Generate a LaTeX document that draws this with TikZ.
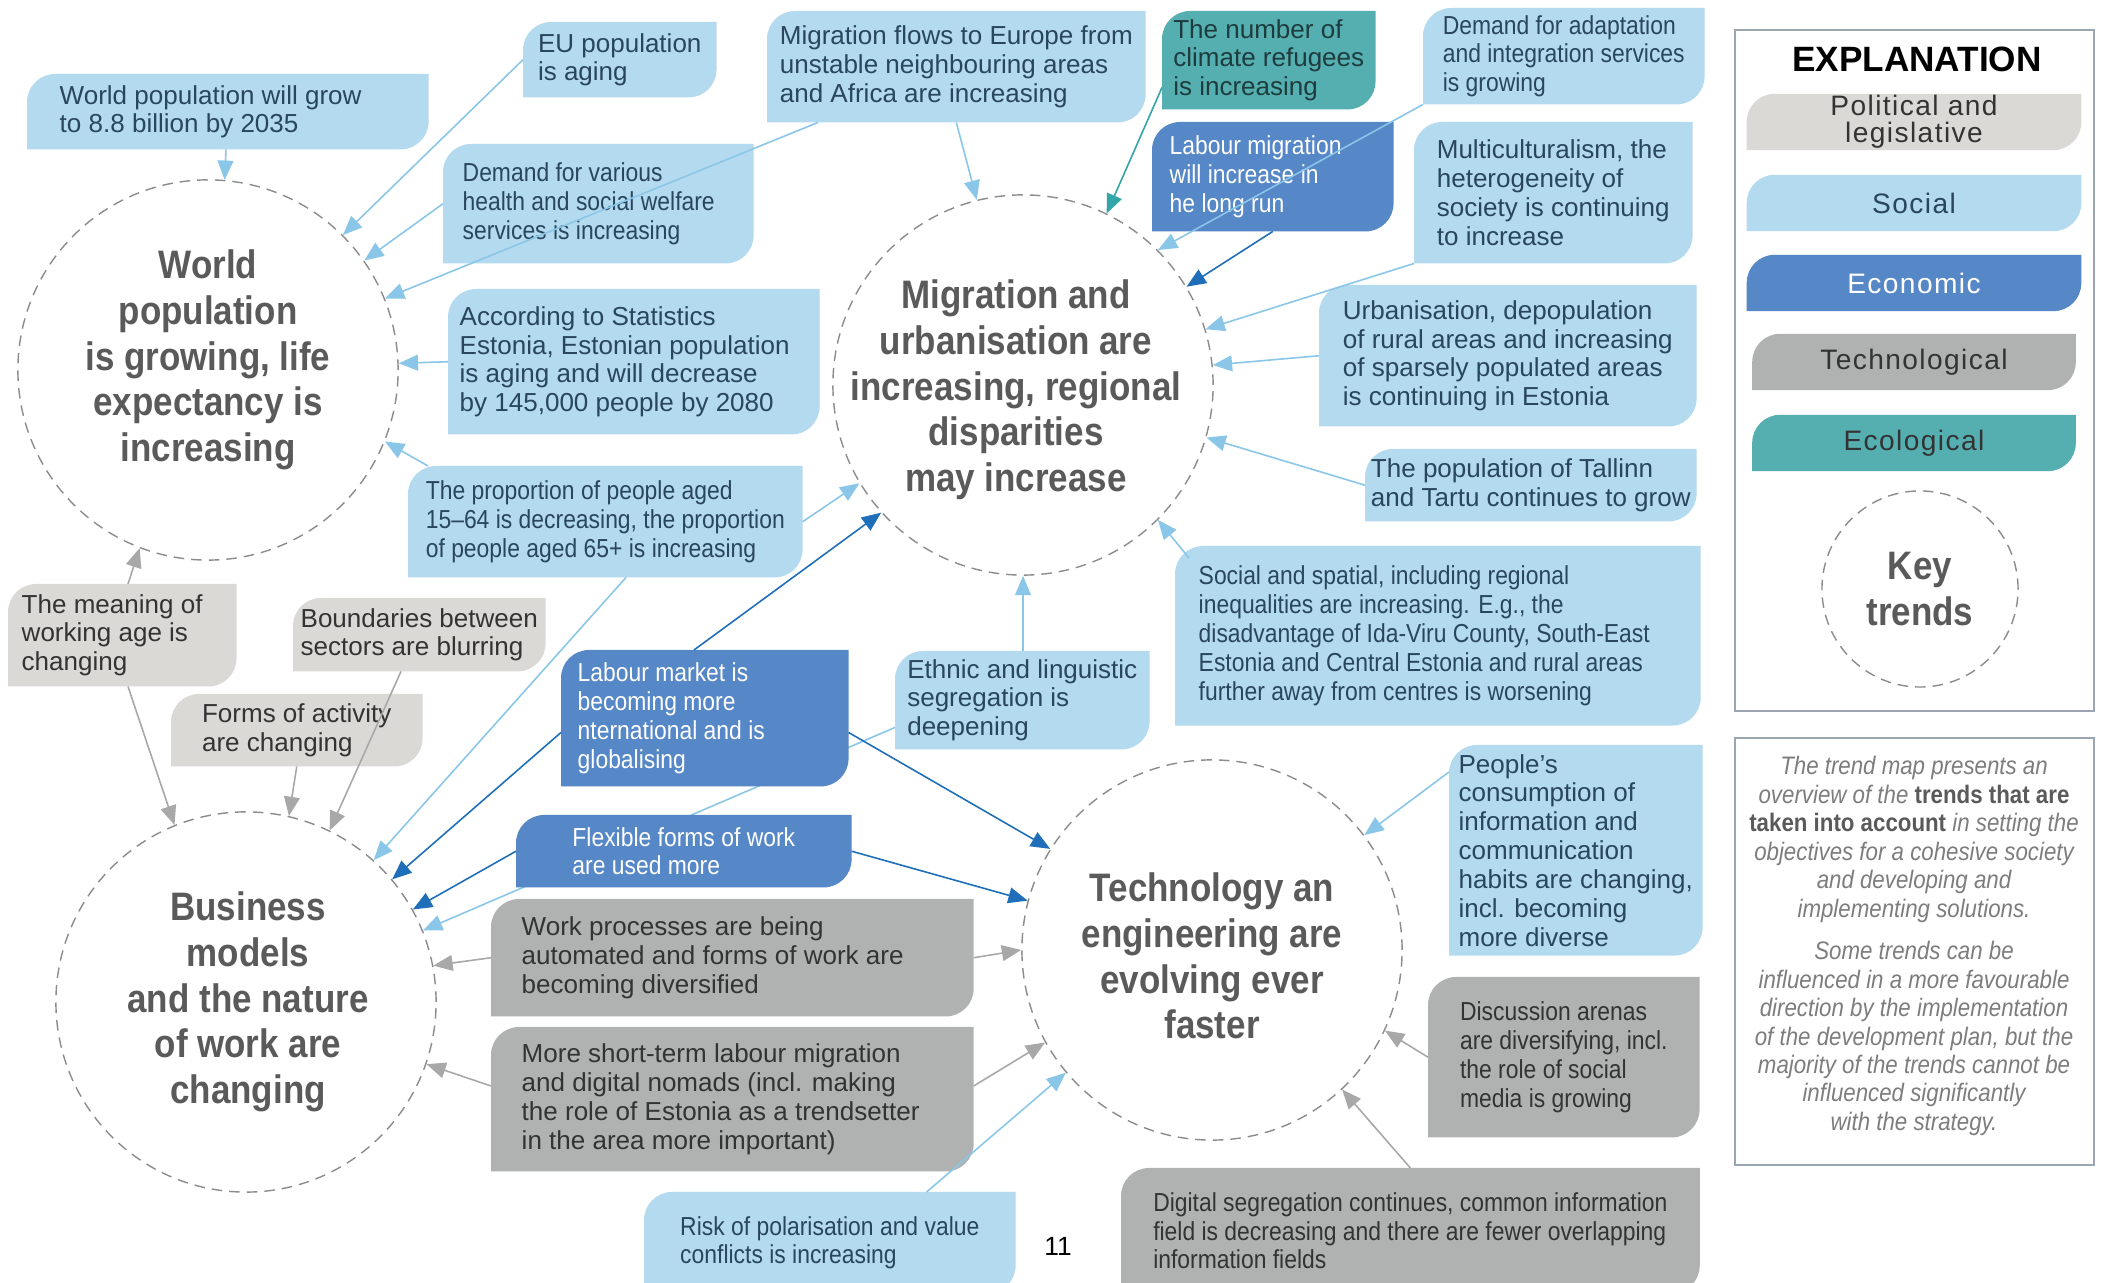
\documentclass[tikz,border=0pt]{standalone}
\usepackage{fontspec}
\setmainfont{Liberation Sans}
\newfontfamily\narrowfamily{Liberation Sans}[FakeStretch=0.88]
\usetikzlibrary{arrows.meta,calc}
\pgfdeclarelayer{background}
\pgfsetlayers{background,main}

\definecolor{socfill}{RGB}{180,218,239}
\definecolor{soctext}{RGB}{40,70,95}
\definecolor{ecofill}{RGB}{86,135,198}
\definecolor{tecfill}{RGB}{176,177,177}
\definecolor{polfill}{RGB}{218,217,213}
\definecolor{envfill}{RGB}{85,175,177}
\definecolor{envtext}{RGB}{30,60,62}
\definecolor{darktext}{RGB}{51,51,51}
\definecolor{socline}{RGB}{138,198,232}
\definecolor{ecoline}{RGB}{30,110,185}
\definecolor{tecline}{RGB}{168,168,168}
\definecolor{envline}{RGB}{50,165,168}
\definecolor{ringgray}{RGB}{140,140,140}
\definecolor{ringtext}{RGB}{90,90,90}
\definecolor{framegray}{RGB}{155,165,180}
\definecolor{notegray}{RGB}{125,125,125}

\newcommand\boxfont{\fontsize{7.4}{8.2}\selectfont}
\tikzstyle{box} = [rectangle,inner sep=0,align=flush left,anchor=north west,font=\boxfont]
\tikzstyle{narrow} = [font=\narrowfamily\fontsize{7.4}{8.2}\selectfont]
\tikzstyle{soc} = [box,text=soctext]
\tikzstyle{eco} = [box,text=white]
\tikzstyle{tec} = [box,text=darktext]
\tikzstyle{pol} = [box,text=darktext]
\tikzstyle{env} = [box,text=envtext]
\tikzstyle{trend} = [circle,draw=ringgray,dash pattern=on 3pt off 2pt,line width=0.4pt,inner sep=0]
\tikzstyle{trendtext} = [align=center,text=ringtext,font=\narrowfamily\bfseries\fontsize{11.3}{13}\selectfont]
\tikzstyle{legend} = [rectangle,inner sep=0,align=center,minimum height=0.55cm,font=\addfontfeatures{LetterSpace=5}\fontsize{8}{7.8}\selectfont]
\tikzstyle{note} = [align=center,text=notegray,font=\narrowfamily\itshape\fontsize{7.2}{8.1}\selectfont]
\tikzstyle{frame} = [draw=framegray,line width=0.6pt]
\tikzstyle{socarrow} = [-{Triangle[length=5.5pt,width=4.5pt]},socline,line width=0.45pt]
\tikzstyle{ecoarrow} = [-{Triangle[length=5.5pt,width=4.5pt]},ecoline,line width=0.45pt]
\tikzstyle{tecarrow} = [-{Triangle[length=5.5pt,width=4.5pt]},tecline,line width=0.45pt]
\tikzstyle{envarrow} = [-{Triangle[length=5.5pt,width=4.5pt]},envline,line width=0.45pt]
\def \rr {0.28cm}

\begin{document}
\begin{tikzpicture}[x=0.01cm,y=-0.01cm]
  \useasboundingbox (0,0) rectangle (2105,1283);

  % key trends
  \node[trend,minimum size=3.8cm] (wpc) at (208,370) {};
  \node[trendtext] (wpct) at (208,360) {World\\population\\is growing, life\\expectancy is\\increasing};
  \node[trend,minimum size=3.8cm] (migc) at (1023,385) {};
  \node[trendtext] (migct) at (1016,390) {Migration and\\urbanisation are\\increasing, regional\\disparities\\may increase};
  \node[trend,minimum size=3.8cm] (busc) at (246,1002) {};
  \node[trendtext] (busct) at (248,1002) {Business\\models\\and the nature\\of work are\\changing};
  \node[trend,minimum size=3.8cm] (tecc) at (1212,950) {};
  \node[trendtext] (tecct) at (1212,956) {Technology an\\engineering are\\evolving ever\\faster};

  % social
  \node[soc,minimum width=4cm,minimum height=0.74cm,text width=3.36cm] (wpgrow) at (27,74) {World population will grow\\to 8.8 billion by 2035};
  \node[soc,minimum width=1.92cm,minimum height=0.74cm] (euage) at (523,22) {EU population\\is aging};
  \node[soc,narrow,minimum width=3.09cm,minimum height=1.18cm,text width=2.71cm] (demand) at (443,144) {Demand for various\\health and social welfare\\services is increasing};
  \node[soc,minimum width=3.70cm,minimum height=1.44cm,text width=3.48cm] (statest) at (448,289) {According to Statistics\\Estonia, Estonian population\\is aging and will decrease\\by 145,000 people by 2080};
  \node[soc,narrow,minimum width=3.93cm,minimum height=1.10cm] (ageprop) at (408,466) {The proportion of people aged\\15–64 is decreasing, the proportion\\of people aged 65+ is increasing};
  \node[soc,minimum width=3.77cm,minimum height=1.10cm] (flows) at (767,11) {Migration flows to Europe from\\unstable neighbouring areas\\and Africa are increasing};
  \node[soc,narrow,minimum width=2.80cm,minimum height=0.95cm] (adapt) at (1423,8) {Demand for adaptation\\and integration services\\is growing};
  \node[soc,minimum width=2.77cm,minimum height=1.40cm] (multi) at (1414,122) {Multiculturalism, the\\heterogeneity of\\society is continuing\\to increase};
  \node[soc,minimum width=3.76cm,minimum height=1.40cm] (urban) at (1319,285) {Urbanisation, depopulation\\of rural areas and increasing\\of sparsely populated areas\\is continuing in Estonia};
  \node[soc,minimum width=3.30cm,minimum height=0.71cm] (tallinn) at (1365,449) {The population of Tallinn\\and Tartu continues to grow};
  \node[soc,narrow,minimum width=5.24cm,minimum height=1.78cm,text width=4.78cm] (spatial) at (1175,546) {Social and spatial, including regional\\inequalities are increasing. E.g., the\\disadvantage of Ida-Viru County, South-East\\Estonia and Central Estonia and rural areas\\further away from centres is worsening};
  \node[soc,minimum width=2.53cm,minimum height=0.97cm] (ethnic) at (895,651) {Ethnic and linguistic\\segregation is\\deepening};
  \node[soc,minimum width=2.52cm,minimum height=2.09cm] (people) at (1449,745) {People’s\\consumption of\\information and\\communication\\habits are changing,\\incl. becoming\\more diverse};
  \node[soc,narrow,minimum width=3.70cm,minimum height=1.00cm] (polar) at (644,1192) {Risk of polarisation and value\\conflicts is increasing};

  % economic
  \node[eco,narrow,minimum width=2.40cm,minimum height=1.08cm,text width=2.06cm] (labmig) at (1152,122) {Labour migration\\will increase in\\he long run};
  \node[eco,narrow,minimum width=2.86cm,minimum height=1.35cm,text width=2.54cm] (labmkt) at (561,650) {Labour market is\\becoming more\\nternational and is\\globalising};
  \node[eco,narrow,minimum width=3.34cm,minimum height=0.71cm] (flexwork) at (516,815) {Flexible forms of work\\are used more};

  % technological
  \node[tec,minimum width=4.81cm,minimum height=1.16cm,text width=4.21cm] (automate) at (491,899) {Work processes are being\\automated and forms of work are\\becoming diversified};
  \node[tec,minimum width=4.81cm,minimum height=1.43cm,text width=4.21cm] (nomads) at (491,1027) {More short-term labour migration\\and digital nomads (incl. making\\the role of Estonia as a trendsetter\\in the area more important)};
  \node[tec,narrow,minimum width=2.70cm,minimum height=1.59cm] (arenas) at (1428,977) {Discussion arenas\\are diversifying, incl.\\the role of social\\media is growing};
  \node[tec,narrow,minimum width=5.77cm,minimum height=1.24cm] (digseg) at (1121,1168) {Digital segregation continues, common information\\field is decreasing and there are fewer overlapping\\information fields};

  % political
  \node[pol,minimum width=2.27cm,minimum height=1.01cm,text width=2.01cm] (workage) at (8,584) {The meaning of\\working age is\\changing};
  \node[pol,minimum width=2.51cm,minimum height=0.72cm] (sectors) at (293,598) {Boundaries between\\sectors are blurring};
  \node[pol,minimum width=2.50cm,minimum height=0.71cm] (activity) at (171,694) {Forms of activity\\are changing};

  % ecological
  \node[env,minimum width=2.12cm,minimum height=0.97cm] (refugees) at (1162,11) {The number of\\climate refugees\\is increasing};

  % explanation
  \draw[frame] (1735,30) rectangle (2094,711);
  \draw[frame] (1735,738) rectangle (2094,1165);
  \node[font=\bfseries\fontsize{10}{12}\selectfont] (expl) at (1917,59) {EXPLANATION};
  \node[legend,minimum width=3.33cm,text=darktext] (legpol) at (1914,122) {Political and\\legislative};
  \node[legend,minimum width=3.33cm,text=soctext] (legsoc) at (1914,203) {Social};
  \node[legend,minimum width=3.33cm,text=white] (legeco) at (1914,283) {Economic};
  \node[legend,minimum width=3.22cm,text=darktext] (legtec) at (1914,362) {Technological};
  \node[legend,minimum width=3.22cm,text=darktext] (legenv) at (1914,443) {Ecological};
  \node[trend,minimum size=1.96cm] (keyc) at (1920,589) {};
  \node[trendtext] (keyct) at (1920,589) {Key\\trends};
  \node[note] (notes) at (1914,946) {The trend map presents an\\overview of the {\upshape\bfseries\color{ringtext}trends that are}\\{\upshape\bfseries\color{ringtext}taken into account} in setting the\\objectives for a cohesive society\\and developing and\\implementing solutions.\\[4pt]Some trends can be\\influenced in a more favourable\\direction by the implementation\\of the development plan, but the\\majority of the trends cannot be\\influenced significantly\\with the strategy.};
  \node[font=\fontsize{7.5}{9}\selectfont] (pagenum) at (1058,1246) {11};

  \begin{pgfonlayer}{background}
    \fill[white] (0,0) rectangle (2105,1283);
    \draw[socarrow] ($(ethnic.south west)+(0,-22)$) -- (busc.22);
    \foreach \n/\c in {wpgrow/socfill,euage/socfill,demand/socfill,statest/socfill,ageprop/socfill,flows/socfill,adapt/socfill,multi/socfill,urban/socfill,tallinn/socfill,spatial/socfill,ethnic/socfill,people/socfill,polar/socfill,labmig/ecofill,labmkt/ecofill,flexwork/ecofill,automate/tecfill,nomads/tecfill,arenas/tecfill,digseg/tecfill,workage/polfill,sectors/polfill,activity/polfill,refugees/envfill,legpol/polfill,legsoc/socfill,legeco/ecofill,legtec/tecfill,legenv/envfill}
      \fill[\c] (\n.west) [rounded corners=\rr] -- (\n.north west) -- (\n.north) [sharp corners] -- (\n.north east) -- (\n.east) [rounded corners=\rr] -- (\n.south east) -- (\n.south) [sharp corners] -- (\n.south west) -- cycle;
  \end{pgfonlayer}

  % into world population
  \draw[socarrow] ($(wpgrow.south west)+(199,0)$) -- (wpc.85);
  \draw[socarrow] (euage.west) -- (wpc.45);
  \draw[socarrow] (demand.west) -- (wpc.35);
  \draw[socarrow] ($(flows.south west)+(51,0)$) -- (wpc.22);
  \draw[socarrow] (statest.west) -- (wpc.2);
  \draw[socarrow] ($(ageprop.north west)+(20,0)$) -- (wpc.-22);
  \draw[tecarrow] ($(workage.north west)+(120,0)$) -- (wpc.249);

  % into migration
  \draw[socarrow] (flows.south) -- (migc.104);
  \draw[envarrow] ($(refugees.south west)+(0,-22)$) -- (migc.64);
  \draw[socarrow] (adapt.south west) -- (migc.45);
  \draw[ecoarrow] (labmig.south) -- (migc.31);
  \draw[socarrow] (multi.south west) -- (migc.17);
  \draw[socarrow] (urban.west) -- (migc.6);
  \draw[socarrow] (tallinn.west) -- (migc.-16);
  \draw[socarrow] ($(spatial.north west)+(14,12)$) -- (migc.-45);
  \draw[socarrow] ($(ethnic.north west)+(128,0)$) -- (migc.-90);
  \draw[socarrow] (ageprop.east) -- (migc.211);
  \draw[ecoarrow] ($(labmkt.north west)+(133,0)$) -- (migc.222);

  % into business models
  \draw[tecarrow] ($(workage.south west)+(120,0)$) -- (busc.112);
  \draw[tecarrow] (activity.south) -- (busc.77);
  \draw[tecarrow] ($(sectors.south west)+(108,0)$) -- (busc.64);
  \draw[socarrow] ($(ageprop.south west)+(218,0)$) -- (busc.48);
  \draw[ecoarrow] ($(labmkt.south west)+(0,-54)$) -- (busc.40);
  \draw[ecoarrow] (flexwork.west) -- (busc.29);
  \draw[tecarrow] (automate.west) -- (busc.11);
  \draw[tecarrow] ($(nomads.north west)+(0,59)$) -- (busc.-19);

  % into technology
  \draw[ecoarrow] ($(labmkt.south east)+(0,-54)$) -- (tecc.148);
  \draw[ecoarrow] (flexwork.east) -- (tecc.165);
  \draw[tecarrow] (automate.east) -- (tecc.180);
  \draw[tecarrow] ($(nomads.north east)+(0,59)$) -- (tecc.209);
  \draw[socarrow] ($(polar.north east)+(-89,0)$) -- (tecc.220);
  \draw[socarrow] ($(people.north west)+(0,27)$) -- (tecc.37);
  \draw[tecarrow] (arenas.west) -- (tecc.-25);
  \draw[tecarrow] (digseg.north) -- (tecc.-47);
\end{tikzpicture}
\end{document}
